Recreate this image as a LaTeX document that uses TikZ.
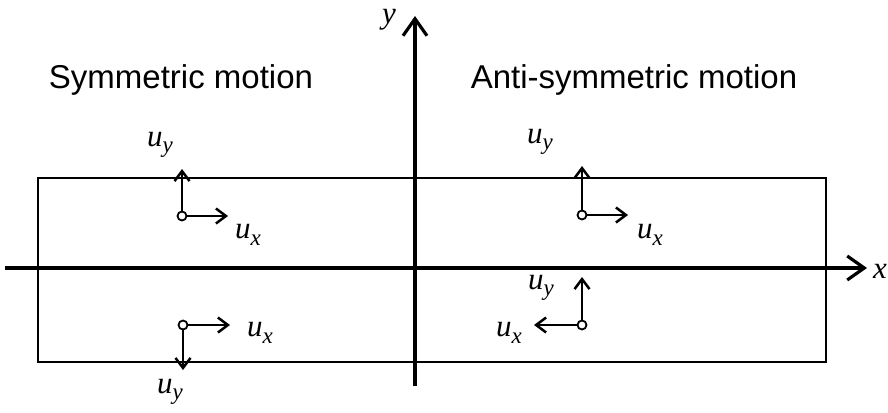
\documentclass[tikz,border=0pt]{standalone}
\usepackage{fontspec}
\setmainfont{Liberation Serif}
\setsansfont{Liberation Sans}
\usetikzlibrary{arrows.meta}
\newcommand{\uvar}[1]{\textit{u}\raisebox{-0.45ex}{\fontsize{23}{23}\selectfont\textit{#1}}}

\begin{document}
\begin{tikzpicture}[
          x=1pt, y=-1pt,
          axis/.style={line width=3.2pt, -{Straight Barb[length=17pt, width=24pt, line width=3.2pt]}},
          frame/.style={line width=2pt},
          arr/.style={line width=2.5pt, -{Straight Barb[length=10pt, width=15pt, line width=2.5pt]}},
          pt/.style={circle, draw, line width=1.8pt, fill=white, inner sep=0pt, minimum size=9pt},
          lbl/.style={font=\fontsize{31}{33}\selectfont, inner sep=0pt},
          title/.style={font=\sffamily\fontsize{33}{36}\selectfont, inner sep=0pt}
        ]
        \useasboundingbox (0,0) rectangle (888,412);
        % frame and axes
        \draw[frame] (38,178) rectangle (826,362);
        \coordinate (xs) at (5,268);
        \coordinate (xe) at (867,268);
        \coordinate (ys) at (415,386);
        \coordinate (ye) at (415,16);
        \draw[axis] (xs) -- (xe);
        \draw[axis] (ys) -- (ye);
        \node[lbl] (xl) at (880,271) {\textit{x}};
        \node[lbl] (yl) at (389,20) {\textit{y}};
        % titles
        \node[title] (sym) at (181,80) {Symmetric motion};
        \node[title] (anti) at (634,80) {Anti-symmetric motion};
        % points
        \node[pt] (p1) at (182,216) {};
        \node[pt] (p2) at (183,325) {};
        \node[pt] (p3) at (582,215) {};
        \node[pt] (p4) at (582,325) {};
        \coordinate (p1x) at (228,216);
        \coordinate (p1y) at (182,169);
        \coordinate (p2x) at (230,325);
        \coordinate (p2y) at (183,370);
        \coordinate (p3x) at (628,215);
        \coordinate (p3y) at (582,166);
        \coordinate (p4x) at (534,325);
        \coordinate (p4y) at (582,277);
        \foreach \a/\b in {p1/p1x, p1/p1y, p2/p2x, p2/p2y, p3/p3x, p3/p3y, p4/p4x, p4/p4y}
          \draw[arr] (\a) -- (\b);
        % labels
        \node[lbl] (u1y) at (160,145) {\uvar{y}};
        \node[lbl] (u1x) at (248,235) {\uvar{x}};
        \node[lbl] (u2x) at (260,333) {\uvar{x}};
        \node[lbl] (u2y) at (170,392) {\uvar{y}};
        \node[lbl] (u3y) at (540,142) {\uvar{y}};
        \node[lbl] (u3x) at (650,235) {\uvar{x}};
        \node[lbl] (u4y) at (541,288) {\uvar{y}};
        \node[lbl] (u4x) at (509,333) {\uvar{x}};
      \end{tikzpicture}
\end{document}
